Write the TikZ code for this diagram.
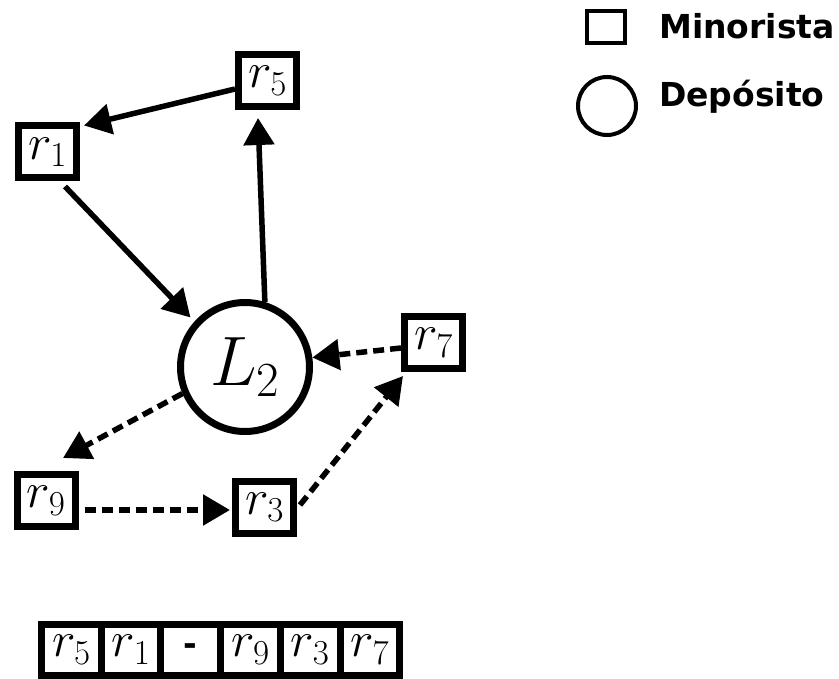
\RequirePackage{fix-cm}
\documentclass[tikz,border=0pt]{standalone}
\usepackage{fontspec}
\usetikzlibrary{arrows.meta,positioning}
\newfontfamily\legendfont{DejaVu Sans}

\begin{document}
\begin{tikzpicture}[x=1pt,y=-1pt,
        box/.style={rectangle,draw,line width=7pt,minimum width=58pt,minimum height=52pt,
          inner sep=0pt,font=\fontsize{50}{60}\selectfont},
        depot/.style={circle,draw,line width=7pt,minimum size=129pt,inner sep=0pt,
          font=\fontsize{70}{84}\selectfont},
        cell/.style={rectangle,draw,line width=7pt,minimum width=59.7pt,minimum height=50.5pt,
          inner sep=0pt,outer sep=0pt,font=\fontsize{50}{60}\selectfont},
        legtext/.style={anchor=base west,inner sep=0pt,font=\fontsize{33}{40}\selectfont\legendfont\bfseries},
        arrow/.style={-{Triangle[length=27pt,width=30pt]},line width=5.5pt},
        dasharrow/.style={arrow,dash pattern=on 11pt off 6pt}]
        \useasboundingbox (0,0) rectangle (839,679);
        \node[box] (r5) at (267.5,80.5) {$r_5$};
        \node[box] (r1) at (47.5,152) {$r_1$};
        \node[depot] (L2) at (245,367) {$L_2$};
        \node[box] (r7) at (433.5,342.5) {$r_7$};
        \node[box] (r9) at (46,500.5) {$r_9$};
        \node[box] (r3) at (264.5,507) {$r_3$};
        \draw[arrow] ([yshift=-8.5pt]r5.west) -- ([xshift=4pt,yshift=-3pt]r1.north east);
        \draw[arrow] ([xshift=17.5pt,yshift=-5pt]r1.south) -- ([shift={(-4pt,4pt)}]L2.138);
        \draw[arrow] (L2.73) -- ([xshift=-9.5pt,yshift=-8pt]r5.south);
        \draw[dasharrow] ([yshift=-5.5pt]r7.west) -- (L2.8);
        \draw[dasharrow] (L2.203) -- ([xshift=17pt,yshift=13pt]r9.north);
        \draw[dasharrow] ([xshift=6pt,yshift=-9.5pt]r9.east) -- ([xshift=-2pt,yshift=-3pt]r3.west);
        \draw[dasharrow] ([xshift=3pt,yshift=2pt]r3.east) -- ([xshift=2pt,yshift=-4pt]r7.south west);
        \node[draw,line width=4pt,minimum width=38pt,minimum height=32pt,inner sep=0pt] (legbox) at (606,27) {};
        \node[legtext] (legbox-text) at (659,39) {Minorista};
        \node[circle,draw,line width=4pt,minimum size=58pt,inner sep=0pt] (legdepot) at (607,106) {};
        \node[legtext] (legdepot-text) at (659,107) {Depósito};
        \node[cell] (s1) at (71.35,649.75) {$r_5$};
        \node[cell,right=0pt of s1] (s2) {$r_1$};
        \node[cell,right=0pt of s2] (s3) {\fontsize{33}{40}\selectfont\legendfont\bfseries -};
        \node[cell,right=0pt of s3] (s4) {$r_9$};
        \node[cell,right=0pt of s4] (s5) {$r_3$};
        \node[cell,right=0pt of s5] (s6) {$r_7$};
      \end{tikzpicture}
\end{document}
